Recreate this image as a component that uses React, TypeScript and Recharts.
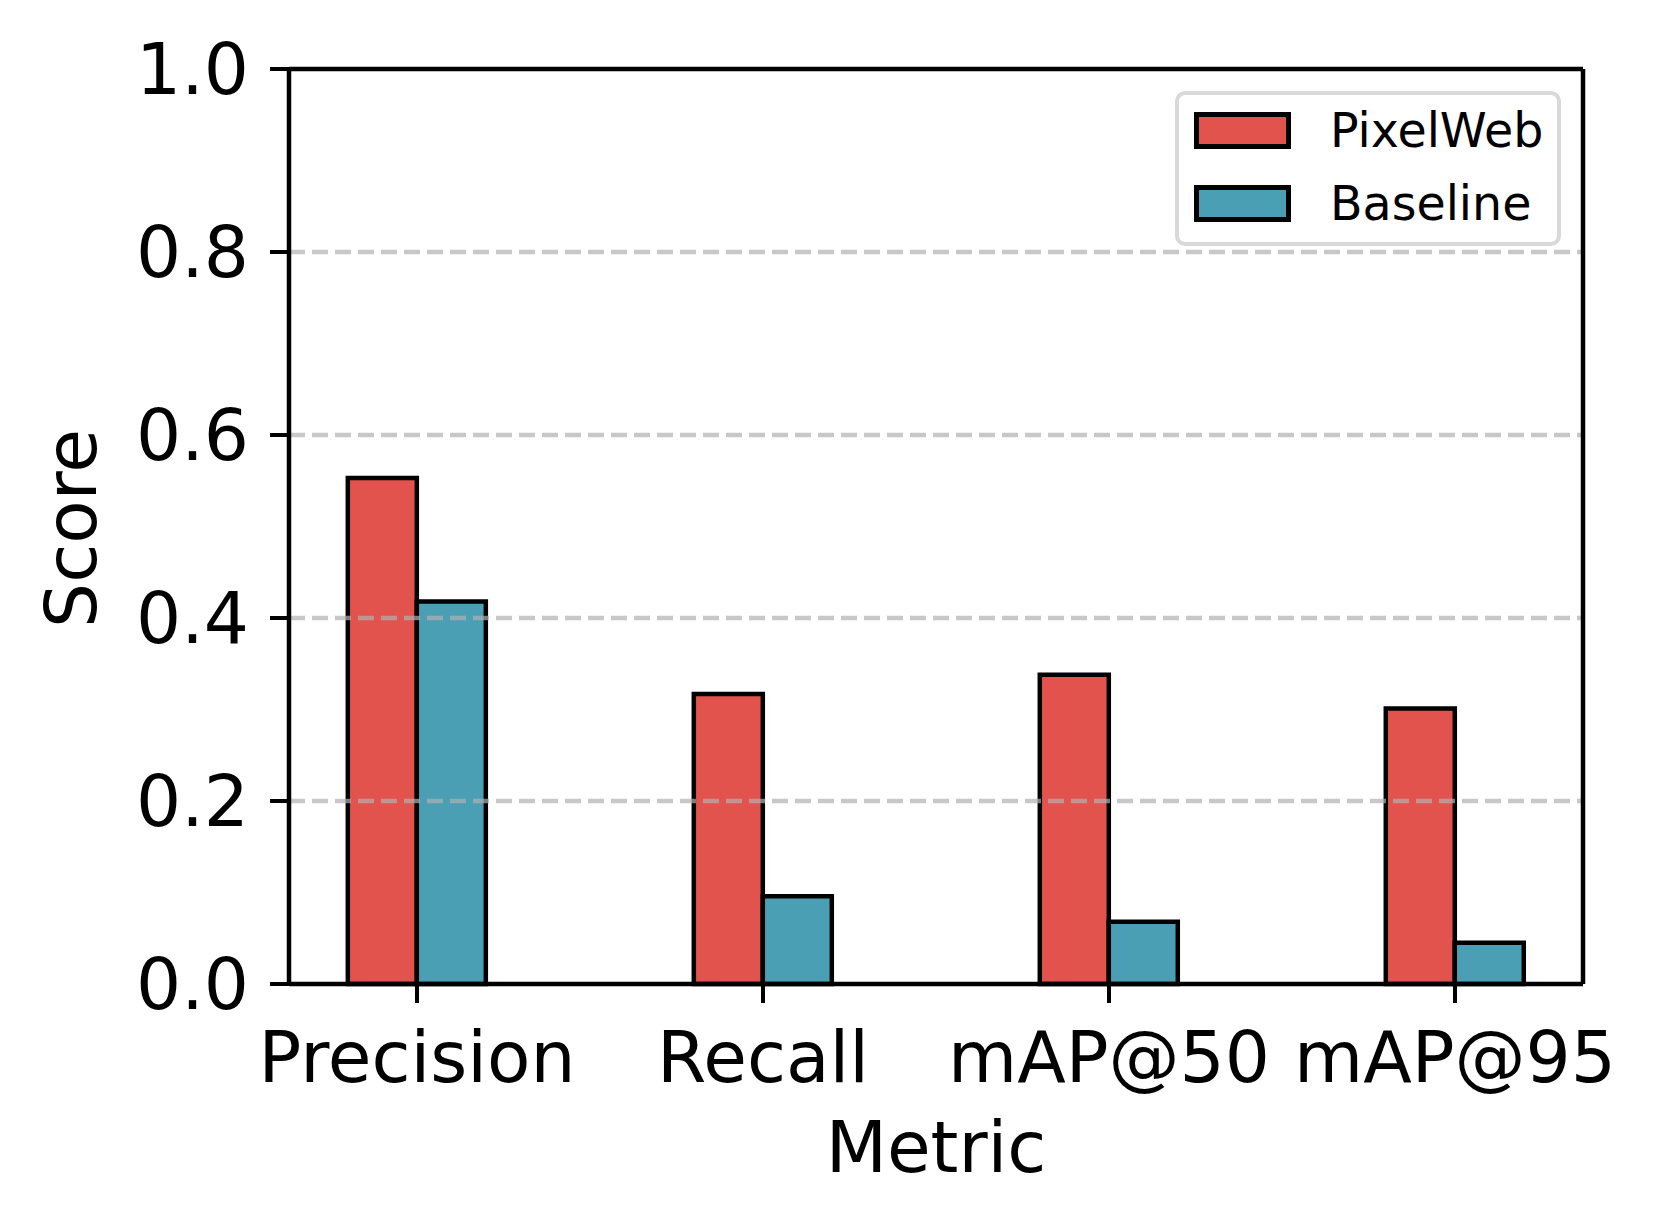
import React from "react";
import {
  BarChart,
  Bar,
  XAxis,
  YAxis,
  ReferenceLine,
  Legend,
} from "recharts";

const metrics = ["Precision", "Recall", "mAP@50", "mAP@95"];
const pixelWebScores = [0.553, 0.317, 0.338, 0.301];
const baselineScores = [0.418, 0.096, 0.068, 0.045];
const yTicks = [0, 0.2, 0.4, 0.6, 0.8, 1.0];
const gridLevels = [0.2, 0.4, 0.6, 0.8];

const series = [
  { key: "pixelWeb", name: "PixelWeb", color: "#E2534D" },
  { key: "baseline", name: "Baseline", color: "#4A9FB5" },
];

const data = metrics.map((m, i) => ({
  idx: i,
  metric: m,
  pixelWeb: pixelWebScores[i],
  baseline: baselineScores[i],
}));

const FONT = "'DejaVu Sans', sans-serif";
const X_DOMAIN: [number, number] = [-0.37, 3.37];

const CustomLegend = () => (
  <div
    style={{
      position: "relative",
      width: 386,
      height: 155,
      boxSizing: "border-box",
      border: "4px solid #d9d9d9",
      borderRadius: 10,
      background: "rgba(255,255,255,0.8)",
      fontFamily: FONT,
    }}
  >
    {series.map((s, i) => (
      <div
        key={s.key}
        style={{
          position: "absolute",
          left: 15,
          top: 17 + i * 73,
          height: 37,
          display: "flex",
          alignItems: "center",
        }}
      >
        <div
          style={{
            width: 97,
            height: 37,
            boxSizing: "border-box",
            border: "5px solid #000",
            background: s.color,
          }}
        />
        <span
          style={{
            marginLeft: 39,
            fontSize: 47.5,
            lineHeight: 1,
            color: "#000",
            whiteSpace: "nowrap",
          }}
        >
          {s.name}
        </span>
      </div>
    ))}
  </div>
);

export default function App() {
  return (
    <div style={{ width: 1640, height: 1210, fontFamily: FONT }}>
      <BarChart
        width={1640}
        height={1210}
        data={data}
        margin={{ top: 61, right: 65, left: 0, bottom: 84 }}
        barCategoryGap="30%"
        barGap={0}
      >
        <XAxis
          type="number"
          dataKey="idx"
          domain={X_DOMAIN}
          ticks={[0, 1, 2, 3]}
          tickFormatter={(v: number) => metrics[v] ?? ""}
          height={150}
          axisLine={{ stroke: "#000", strokeWidth: 4.5 }}
          tickLine={{ stroke: "#000", strokeWidth: 4 }}
          tickSize={19}
          tickMargin={29}
          tick={{ fontSize: 71, fill: "#000", fontFamily: FONT }}
          allowDataOverflow
          label={{
            content: ({ viewBox }: any) => (
              <text
                x={viewBox.x + viewBox.width / 2}
                y={viewBox.y + 188}
                textAnchor="middle"
                fontSize={71}
                fontFamily={FONT}
                fill="#000"
              >
                Metric
              </text>
            ),
          }}
        />
        <YAxis
          domain={[0, 1]}
          ticks={yTicks}
          tickFormatter={(v: number) => v.toFixed(1)}
          width={281}
          axisLine={{ stroke: "#000", strokeWidth: 4.5 }}
          tickLine={{ stroke: "#000", strokeWidth: 4 }}
          tickSize={19}
          tickMargin={21}
          tick={{ fontSize: 71, fill: "#000", fontFamily: FONT }}
          label={{
            content: ({ viewBox }: any) => {
              const cx = viewBox.x + 63;
              const cy = viewBox.y + viewBox.height / 2 + 2;
              return (
                <text
                  x={cx}
                  y={cy}
                  transform={`rotate(-90 ${cx} ${cy})`}
                  textAnchor="middle"
                  dominantBaseline="central"
                  fontSize={71}
                  fontFamily={FONT}
                  fill="#000"
                >
                  Score
                </text>
              );
            },
          }}
        />
        {series.map((s) => (
          <Bar
            key={s.key}
            dataKey={s.key}
            name={s.name}
            fill={s.color}
            stroke="#000"
            strokeWidth={4.5}
            isAnimationActive={false}
          />
        ))}
        {gridLevels.map((g) => (
          <ReferenceLine
            key={g}
            y={g}
            stroke="#b0b0b0"
            strokeOpacity={0.7}
            strokeWidth={4.5}
            strokeDasharray="16 7"
          />
        ))}
        <ReferenceLine y={1} stroke="#000" strokeWidth={4.5} />
        <ReferenceLine x={X_DOMAIN[1]} stroke="#000" strokeWidth={4.5} />
        <Legend
          layout="vertical"
          align="center"
          verticalAlign="middle"
          content={<CustomLegend />}
          wrapperStyle={{ position: "absolute", left: 1167, top: 83, width: "auto", height: "auto" }}
        />
      </BarChart>
    </div>
  );
}
